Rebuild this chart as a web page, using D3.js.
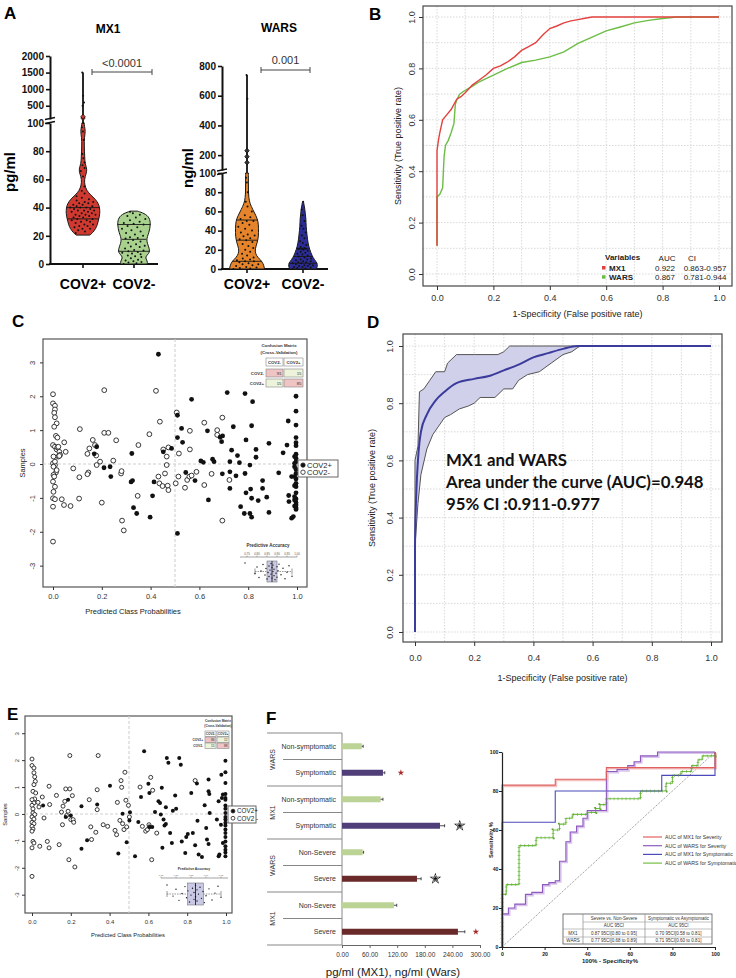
<!DOCTYPE html>
<html>
<head>
<meta charset="utf-8">
<script src="https://cdn.jsdelivr.net/npm/d3@7/dist/d3.min.js"></script>
<style>
html,body{margin:0;padding:0;background:#fff;}
svg{display:block;}
</style>
</head>
<body>
<svg id="chart" width="736" height="978"></svg>
<script>
// ================= DATA =================
// ---- Panel A : violins ----
const violinGroups = ["COV2+", "COV2-"];
const mx1TicksLow = [0, 20, 40, 60, 80, 100];
const mx1TicksHigh = [500, 1000, 1500, 2000];
const warsTicksLow = [0, 20, 40, 60, 80, 100];
const warsTicksHigh = [200, 400, 600, 800];
// [value, relative density]
const mx1PosProfile = [[20.5,0.4],[22,0.55],[25,0.75],[28,0.85],[32,0.93],[36,1.0],[40,0.98],[43,0.9],[46,0.72],[49,0.45],[52,0.22],[56,0.1],[60,0.08],[64,0.18],[67,0.25],[71,0.12],[76,0.1],[84,0.07],[90,0.08],[94,0.15],[98,0.08],[100,0.07]];
const mx1NegProfile = [[0,0.78],[2,0.8],[5,0.62],[8,0.95],[12,0.88],[17,0.7],[22,0.88],[28,0.98],[33,0.92],[36,0.6],[37.5,0.2]];
const warsPosProfile = [[0,1.0],[4,0.96],[8,0.85],[12,0.62],[16,0.48],[21,0.46],[27,0.58],[34,0.66],[42,0.66],[50,0.64],[56,0.5],[62,0.33],[68,0.17],[74,0.1],[82,0.08],[92,0.08],[100,0.08]];
const warsNegProfile = [[0,0.9],[3,0.96],[6,0.95],[10,0.75],[14,0.6],[20,0.45],[27,0.33],[35,0.27],[45,0.2],[52,0.2],[58,0.15],[65,0.1],[70,0.03]];
const mx1PosQuart = [32, 40];
const mx1NegQuart = [9, 17.5, 28];
const warsPosQuart = [8, 30, 51];
const warsNegQuart = [6, 13, 21];
const mx1PosMax = 1500, warsPosMax = 740;
const mx1PosDots = [22,23,24,25,25,26,27,27,28,28,29,30,30,31,31,32,32,33,33,34,34,35,35,35,36,36,37,37,38,38,38,39,39,40,40,40,41,41,42,42,43,43,44,44,45,46,47,48,50,52,55,62,66,68,70,72,75,78,88,94,97,100,500,600,800,1500];
const mx1NegDots = [0,0.5,1,1.5,2,2.5,3,4,5,5.5,6,7,7.5,8,8.5,9,9.5,10,11,12,12.5,13,14,15,16,17,18,18.5,19,20,21,22,23,24,25,26,27,28,28.5,29,30,31,32,33,34,35,36,37];
const warsPosDots = [0,0.5,1,1.5,2,3,4,5,5,6,7,8,8,9,10,11,12,14,16,18,20,22,24,26,28,30,31,32,34,35,36,38,40,42,44,46,48,50,50,52,54,56,60,65,70,80,90,95,580,740];
const warsNegDots = [0,0.5,1,1.5,2,2,3,3,4,4,5,5,6,6,7,7,8,8,9,10,10,11,12,13,14,15,16,17,18,19,20,21,21,21,21,22,23,25,27,29,32,35,38,42,45,50,56,62,70];
const mx1Outliers = [130, 170];
const warsOutliers = [150, 190, 230];
const mx1PValue = "<0.0001";
const warsPValue = "0.001";

// ---- Panel B : ROC ----
const bMx1Fpr = [0,0,0.005,0.01,0.02,0.035,0.05,0.07,0.085,0.1,0.125,0.15,0.175,0.2,0.225,0.25,0.275,0.3,0.325,0.35,0.375,0.4,0.425,0.45,0.475,0.5,0.525,0.55,0.6,1];
const bMx1Tpr = [0.11,0.48,0.52,0.55,0.60,0.62,0.64,0.68,0.69,0.705,0.735,0.755,0.775,0.80,0.81,0.825,0.845,0.87,0.885,0.90,0.93,0.955,0.965,0.977,0.985,0.99,0.995,1,1,1];
const bWarsFpr = [0,0,0.01,0.02,0.025,0.03,0.04,0.05,0.06,0.065,0.07,0.08,0.1,0.125,0.15,0.2,0.25,0.3,0.35,0.4,0.45,0.5,0.55,0.6,0.65,0.7,0.75,0.8,0.85,1];
const bWarsTpr = [0.11,0.30,0.31,0.335,0.455,0.50,0.52,0.55,0.585,0.66,0.677,0.70,0.715,0.73,0.748,0.774,0.80,0.823,0.832,0.845,0.864,0.897,0.922,0.946,0.961,0.977,0.987,0.994,1,1];
const bVariables = ["MX1", "WARS"];
const bAuc = ["0.922", "0.867"];
const bCi = ["0.863-0.957", "0.781-0.944"];
const rocTicks = [0, 0.2, 0.4, 0.6, 0.8, 1.0];

// ---- Panel C : scatter ----
const cOpen = [[0,2.06],[0,1.79],[0.008,1.72],[0.008,1.61],[0.005,1.51],[0.008,1.38],[0.015,1.2],[0.005,1.1],[0.012,0.83],[0.018,0.78],[0,0.56],[0.008,0.51],[0.015,0.43],[0.026,0.36],[0.029,0.27],[0.022,0.22],[0,0.02],[0.008,-0.03],[0.002,-0.08],[0.012,-0.25],[0.002,-0.32],[0,-0.52],[0.008,-0.67],[0,-1.01],[0.008,-1.04],[0,-1.26],[0,-2.29],[0.018,0.49],[0.002,0.22],[0.008,0.07],[0.015,-0.18],[0.005,-0.37],[0.002,-0.82],[0.022,0.51],[0.026,0.24],
[0.036,-1.04],[0.045,-1.21],[0.072,-1.24],[0.046,0.64],[0.052,0.36],[0.083,-0.13],[0.108,-0.39],[0.11,1.03],[0.107,-1.02],[0.141,0.3],[0.145,-0.25],[0.149,0.46],[0.141,-0.3],[0.163,0.71],[0.172,0.56],[0.177,0.25],[0.179,-0.03],[0.193,0.07],[0.2,-1.14],[0.21,2.18],[0.21,0.92],[0.227,0.92],[0.247,0.1],[0.259,0.7],[0.279,-0.28],[0.281,-0.21],[0.283,-1.67],[0.29,-1.96],[0.347,-0.94],[0.35,0.56],[0.395,0.88],[0.422,2.16],[0.438,1.25],[0.432,-0.37],[0.436,-0.57],[0.449,-0.65],[0.452,0.43],[0.459,-0.28],[0.466,0.22],[0.466,-0.03],[0.47,-0.64],[0.473,-0.77],[0.473,0.49],[0.503,-0.57],[0.507,1.52],[0.516,0.31],[0.514,-0.37],[0.541,-0.7],[0.55,-0.47],[0.559,-0.37],[0.561,0.43],[0.561,0.98],[0.568,-0.34],[0.588,-0.23],[0.62,1.22],[0.62,-0.62],[0.65,-0.29],[0.673,1.0],[0.673,0.86],[0.694,1.37],[0.723,-0.47],[0.694,-1.67]];
const cFilled = [[0.432,3.24],[0.179,0.51],[0.169,0.3],[0.209,-0.11],[0.234,-0.08],[0.237,-0.37],[0.32,-0.53],[0.326,-0.49],[0.323,0.31],[0.33,-1.29],[0.343,-1.46],[0.398,-1.57],[0.408,-0.94],[0.414,-0.53],[0.452,0.36],[0.486,0.46],[0.51,1.44],[0.51,0.78],[0.527,1.05],[0.531,0.64],[0.51,-2.05],[0.544,-0.25],[0.568,1.91],[0.582,-0.49],[0.606,0.09],[0.616,0.05],[0.633,0.98],[0.637,-1.06],[0.654,0.14],[0.66,0.07],[0.685,0.79],[0.691,0.66],[0.695,0.83],[0.725,0.07],[0.725,-0.23],[0.725,-0.72],[0.732,0.41],[0.739,1.1],[0.714,2.11],[0.694,-0.29],[0.75,-0.35],[0.756,0.25],[0.764,0.04],[0.787,2.08],[0.791,0.71],[0.787,-0.28],[0.791,-0.85],[0.807,-0.03],[0.81,-0.74],[0.769,-1.26],[0.784,-1.46],[0.807,-1.46],[0.814,-1.57],[0.814,-1.01],[0.841,-1.08],[0.832,0.43],[0.832,0.2],[0.818,1.84],[0.814,1.13],[0.859,-0.49],[0.859,-0.72],[0.876,-0.98],[0.885,0.61],[0.885,-1.43],[0.925,-0.26],[0.943,0.33],[0.959,0.56],[0.964,1.27],[0.966,-0.93],[0.967,-1.11],[0.978,-0.37],[0.978,-1.6],[0.985,-1.55],
[0.996,2.0],[0.996,1.56],[0.996,1.15],[0.996,0.78],[0.996,0.63],[0.996,0.54],[0.996,0.29],[0.996,0.17],[0.996,0.07],[0.99,0.02],[0.996,-0.16],[0.996,-0.28],[0.99,-0.37],[0.996,-0.44],[0.996,-0.57],[0.996,-0.67],[0.996,-0.85],[0.996,-1.03],[0.996,-1.14],[0.996,-1.21],[0.996,-1.29],[0.996,-1.34],[0.99,-1.06],[0.99,0.22],[0.99,-0.08],[0.99,-0.64],[0.99,-0.96],[0.99,-1.24]];
const scatterXTicks = [0, 0.2, 0.4, 0.6, 0.8, 1.0];
const scatterYTicks = [-3, -2, -1, 0, 1, 2, 3];
const classLabels = ["COV2+", "COV2-"];
const cMatrixCols = ["COV2-", "COV2+"];
const cMatrixRows = ["COV2-", "COV2+"];
const cMatrix = [[91, 15], [15, 85]];
const cAccTicks = [0.75, 0.80, 0.85, 0.90, 0.95, 1.00];
const cAccuracy = [0.74,0.79,0.80,0.81,0.82,0.83,0.84,0.845,0.85,0.855,0.86,0.86,0.865,0.87,0.87,0.875,0.875,0.88,0.88,0.885,0.885,0.89,0.895,0.9,0.9,0.905,0.91,0.92,0.93,0.94,0.95,0.96,0.975];

// ---- Panel D : combined ROC with CI ----
const dMeanFpr = [0,0,0.005,0.01,0.02,0.04,0.07,0.1,0.14,0.2,0.25,0.3,0.35,0.4,0.45,0.5,0.55,1];
const dMeanTpr = [0,0.3,0.5,0.6,0.7,0.76,0.81,0.84,0.87,0.885,0.895,0.915,0.935,0.96,0.975,0.99,1,1];
const dUpperFpr = [0,0,0.01,0.015,0.03,0.05,0.07,0.1,0.11,0.14,0.2,0.28,0.3,0.32,1];
const dUpperTpr = [0.3,0.6,0.65,0.84,0.85,0.88,0.91,0.91,0.94,0.97,0.97,0.97,0.98,1,1];
const dLowerFpr = [0,0.01,0.02,0.04,0.06,0.08,0.1,0.12,0.15,0.18,0.2,0.22,0.27,0.3,0.33,0.35,0.38,0.42,0.46,0.5,0.53,0.55,0.56,1];
const dLowerTpr = [0.3,0.45,0.55,0.64,0.69,0.72,0.75,0.76,0.78,0.79,0.80,0.82,0.82,0.85,0.85,0.88,0.9,0.91,0.94,0.97,0.98,0.995,1,1];
const dText = ["MX1 and WARS", "Area under the curve (AUC)=0.948", "95% CI :0.911-0.977"];

// ---- Panel E : scatter ----
const eOpen = [[0,2.04],[0,1.8],[0.01,1.71],[0.01,1.53],[0.014,1.38],[0.017,1.21],[0.01,1.09],[0.005,0.84],[0.019,0.78],[0.014,0.56],[0,0.53],[0.01,0.41],[0,0.32],[0.005,0.19],[0.005,0.04],[0.014,-0.02],[0,-0.11],[0.01,-0.19],[0,-0.31],[0.01,-0.36],[0,-0.46],[0.005,-0.56],[0,-0.64],[0.005,-1.02],[0.01,-1.08],[0,-1.26],[0,-2.32],
[0.031,0.43],[0.036,0.26],[0.04,-1.2],[0.053,0.63],[0.062,-0.15],[0.088,1.03],[0.091,0.35],[0.079,-1.02],[0.088,-1.26],[0.126,0.69],[0.14,-1.14],[0.152,0.07],[0.157,-0.4],[0.16,0.29],[0.169,0.47],[0.174,0.93],[0.178,-0.06],[0.186,0.1],[0.195,0.93],[0.195,2.17],[0.2,-0.21],[0.19,-1.7],[0.208,0.68],[0.212,-0.21],[0.215,-0.31],[0.221,-1.97],[0.295,0.53],[0.303,-0.48],[0.307,-0.95],[0.329,-0.68],[0.336,0.9],[0.336,0.16],[0.341,2.17],[0.367,-0.4],[0.39,-0.46],[0.428,-0.61],[0.436,-0.77],[0.44,0.43],[0.453,-0.24],[0.459,1.24],[0.462,0.99],[0.467,-0.36],[0.474,-0.58],[0.479,1.55],[0.484,0.51],[0.488,-0.48],[0.497,0.32],[0.502,-0.11],[0.557,1.0],[0.569,-0.46],[0.586,-0.64],[0.595,-0.58],[0.603,-0.4],[0.605,-0.48],[0.612,1.36],[0.622,0.88],[0.617,-1.7],[0.643,-0.71],[0.841,1.24]];
const eFilled = [[0.057,0.31],[0.186,0.53],[0.174,-0.11],[0.2,-0.06],[0.255,0.29],[0.255,-1.29],[0.284,-0.98],[0.336,0.35],[0.402,1.05],[0.445,-1.47],[0.467,0.01],[0.488,-1.05],[0.502,-0.24],[0.505,0.06],[0.531,-1.57],[0.548,-0.3],[0.562,0.63],[0.578,2.33],[0.6,1.12],[0.605,0.78],[0.607,-0.48],[0.62,-0.48],[0.634,0.07],[0.652,0.47],[0.66,0.41],[0.664,-0.02],[0.669,0.97],[0.672,-1.26],[0.678,-0.21],[0.683,-0.43],[0.69,0.25],[0.69,-0.37],[0.695,2.08],[0.703,1.9],[0.712,-0.71],[0.721,-1.08],[0.726,0.12],[0.738,0.69],[0.743,0.19],[0.759,2.08],[0.767,1.83],[0.772,-1.02],[0.795,-0.86],[0.79,-1.45],[0.803,-0.74],[0.821,0.78],[0.829,-0.71],[0.841,-1.16],[0.85,1.13],[0.853,-0.25],[0.859,-1.51],[0.876,-1.6],[0.89,0.32],[0.898,-0.52],[0.902,-0.95],[0.91,-1.12],[0.91,1.28],[0.91,0.84],[0.914,0.74],[0.916,0.04],[0.953,-0.21],[0.962,-1.57],[0.966,-1.51],[0.962,0.47],[0.974,-0.4],[0.976,1.46],[0.979,0.59],[0.984,0.72],[0.984,-1.08],
[0.997,1.98],[0.997,1.55],[0.997,1.15],[0.997,0.74],[0.997,0.59],[0.997,0.53],[0.997,0.31],[0.997,0.19],[0.997,0.04],[0.997,-0.11],[0.997,-0.21],[0.997,-0.33],[0.997,-0.43],[0.997,-0.58],[0.997,-0.71],[0.997,-0.86],[0.997,-1.02],[0.997,-1.2],[0.997,-1.33],[0.997,-1.43],[0.997,-1.57]];
const eMatrixCols = ["COV2-", "COV2+"];
const eMatrixRows = ["COV2+", "COV2-"];
const eMatrix = [[86, 12], [15, 88]];
const eAccTicks = [0.75, 0.80, 0.85, 0.90, 0.95];
const eAccuracy = [0.77,0.79,0.8,0.81,0.82,0.83,0.835,0.84,0.845,0.85,0.855,0.86,0.86,0.865,0.865,0.87,0.87,0.875,0.88,0.885,0.89,0.895,0.9,0.91,0.92,0.93,0.94,0.95];

// ---- Panel F : bars ----
const fRowLabels = ["Non-symptomatic","Symptomatic","Non-symptomatic","Symptomatic","Non-Severe","Severe","Non-Severe","Severe"];
const fGroupLabels = ["WARS","MX1","WARS","MX1"];
const fBarKind = ["control","symptomatic","control","symptomatic","control","severe","control","severe"];
const fValues = [43, 89, 84, 213, 45, 163, 113, 252];
const fErrors = [3, 4, 5, 10, 2, 9, 6, 15];
const fSignif = [0, 1, 0, 2, 0, 2, 0, 1];
const fStarPos = [0, 128, 0, 256, 0, 203, 0, 291];
const fXTicks = [0, 60, 120, 180, 240, 300];
const fXTitle = "pg/ml (MX1), ng/ml (Wars)";

// ---- Panel F : ROC ----
const rocMx1Severity = [[0,0],[0,83],[25,83],[25,86],[49,86],[49,92],[100,92],[100,100]];
const rocWarsSeverity = [[0,0],[0,17],[3,17],[3,20],[6,20],[6,22],[11,22],[11,27],[14,27],[14,28],[19,28],[19,32],[22,32],[22,33],[25,33],[25,34],[27,34],[27,44],[30,44],[30,54],[32,54],[32,59],[35,59],[35,62],[38,62],[38,66],[40,66],[40,70],[49,70],[49,90],[54,90],[54,91],[59,91],[59,93],[62,93],[62,95],[65,95],[65,98],[73,98],[73,100],[100,100]];
const rocMx1Symptomatic = [[0,0],[0,64],[25,64],[25,80],[75,80],[75,88],[100,88],[100,100]];
const rocWarsSymptomatic = [[0,0],[0,27],[2,27],[2,32],[8,32],[8,52],[16,52],[16,56],[24,56],[24,60],[27,60],[27,63],[30,63],[30,66],[33,66],[33,68],[40,68],[40,69],[44,69],[44,71],[46,71],[46,73],[49,73],[49,76],[65,76],[65,80],[77,80],[77,84],[80,84],[80,88],[84,88],[84,90],[89,90],[89,93],[92,93],[92,96],[94,96],[94,98],[100,98],[100,100]];
const fRocLegend = ["AUC of MX1 for Severity","AUC of WARS for Severity","AUC of MX1 for Symptomatic","AUC of WARS for Symptomatic"];
const fRocTicks = [0, 20, 40, 60, 80, 100];
const fTableHeader = ["", "Severe vs. Non-Severe", "Symptomatic vs Asymptomatic"];
const fTableSub = ["", "AUC 95CI", "AUC 95CI"];
const fTableRows = [["MX1", "0.87 95CI[0.80 to 0.95]", "0.70 95CI[0.58 to 0.81]"], ["WARS", "0.77 95CI[0.68 to 0.89]", "0.71 95CI[0.60 to 0.81]"]];

// ================= DRAWING =================
const FONT = "'Liberation Sans', Arial, Helvetica, sans-serif";
const svg = d3.select("#chart");
svg.append("rect").attr("width", 736).attr("height", 978).attr("fill", "#fff");

function T(x, y, s, o = {}) {
  const t = svg.append("text").attr("x", x).attr("y", y).text(s)
    .attr("font-size", o.size || 10).attr("font-weight", o.weight || "normal")
    .attr("text-anchor", o.anchor || "start").attr("fill", o.fill || "#000")
    .attr("font-family", o.family || FONT);
  if (o.rotate) t.attr("transform", `rotate(${o.rotate},${x},${y})`);
  return t;
}
function L(x1, y1, x2, y2, stroke, w, dash) {
  const l = svg.append("line").attr("x1", x1).attr("y1", y1).attr("x2", x2).attr("y2", y2)
    .attr("stroke", stroke || "#000").attr("stroke-width", w || 1);
  if (dash) l.attr("stroke-dasharray", dash);
  return l;
}
function styleAxis(g, o) {
  g.selectAll(".tick line").attr("stroke", o.stroke || "#333").attr("stroke-width", o.tw || 1);
  g.selectAll(".tick text").attr("font-family", o.family || FONT).attr("font-size", o.size)
    .attr("font-weight", o.weight || "normal").attr("fill", o.fill || "#333");
}

// ---------- panel letters ----------
[["A",4,19],["B",369,20],["C",12,327],["D",367,328],["E",7,720],["F",266,724]].forEach(d =>
  T(d[1], d[2], d[0], {size: 17, weight: "bold"}));

// ---------- Panel A ----------
function hwAt(profile, v) {
  if (v <= profile[0][0]) return profile[0][1];
  for (let i = 1; i < profile.length; i++) {
    if (v <= profile[i][0]) {
      const a = profile[i - 1], b = profile[i];
      const t = (v - a[0]) / (b[0] - a[0]);
      return a[1] + t * (b[1] - a[1]);
    }
  }
  return profile[profile.length - 1][1];
}
function drawViolin(cx, yLow, yFull, profile, maxHW, fill, quart, dots, upperMax, yHigh, outliers, outFill) {
  if (upperMax) {
    L(cx, yHigh(100), cx, yHigh(upperMax), "#111", 1.8);
    L(cx, yLow(100), cx, yHigh(100), "#111", 1.8);
    outliers.forEach(v => {
      const y = yHigh(v);
      svg.append("path").attr("d", `M${cx},${y-2.5}L${cx+2.2},${y}L${cx},${y+2.5}L${cx-2.2},${y}Z`)
        .attr("fill", outFill).attr("stroke", "#111").attr("stroke-width", 0.8);
    });
  }
  const area = d3.area().curve(d3.curveBasis)
    .y(d => yLow(d[0])).x0(d => cx - maxHW * d[1]).x1(d => cx + maxHW * d[1]);
  svg.append("path").datum(profile).attr("d", area).attr("fill", fill)
    .attr("stroke", "#1a1a1a").attr("stroke-width", 1);
  quart.forEach(q => { const w = maxHW * hwAt(profile, q); L(cx - w, yLow(q), cx + w, yLow(q), "#1a1a1a", 0.9); });
  const top = profile[profile.length - 1][0];
  dots.forEach((v, i) => {
    const w = v <= top ? maxHW * hwAt(profile, v) * 0.78 : 1.2;
    const off = ((((i * 0.618034) % 1) * 2) - 1) * w;
    svg.append("circle").attr("cx", cx + off).attr("cy", yFull(v)).attr("r", 1).attr("fill", "#111");
  });
}
function violinAxes(ax, lowS, highS, ticksLow, ticksHigh, xEnd, breakY) {
  [[lowS, ticksLow], [highS, ticksHigh]].forEach(([s, tv]) => {
    const g = svg.append("g").attr("transform", `translate(${ax},0)`)
      .call(d3.axisLeft(s).tickValues(tv).tickSize(4).tickSizeOuter(0).tickFormat(d => String(d)));
    g.select(".domain").attr("stroke", "#111").attr("stroke-width", 2);
    styleAxis(g, {size: 10, weight: "bold", fill: "#111", stroke: "#111", tw: 1.6});
    g.selectAll(".tick text").attr("x", -6);
  });
  L(ax - 5, breakY[0] + 1, ax + 5, breakY[0] - 1, "#111", 1.5);
  L(ax - 5, breakY[1] + 1, ax + 5, breakY[1] - 1, "#111", 1.5);
  L(ax - 1, lowS(0), xEnd, lowS(0), "#111", 2);
}

// MX1
const mx1Low = d3.scaleLinear().domain([0, 100]).range([264, 123]);
const mx1High = d3.scaleLinear().domain([100, 2000]).range([119, 56]);
const mx1Y = v => v <= 100 ? mx1Low(v) : mx1High(v);
const aX1 = d3.scalePoint().domain(violinGroups).range([83, 134]);
violinAxes(50, mx1Low, mx1High, mx1TicksLow, mx1TicksHigh, 158, [118.5, 122.5]);
drawViolin(aX1("COV2+"), mx1Low, mx1Y, mx1PosProfile, 17, "#d0392f", mx1PosQuart, mx1PosDots, mx1PosMax, mx1High, mx1Outliers, "#d0392f");
drawViolin(aX1("COV2-"), mx1Low, mx1Y, mx1NegProfile, 17, "#a9d18e", mx1NegQuart, mx1NegDots);
violinGroups.forEach(g => { L(aX1(g), 264, aX1(g), 268, "#111", 1.6); T(aX1(g), 289, g, {size: 14, weight: "bold", anchor: "middle"}); });
T(108, 33, "MX1", {size: 12, weight: "bold", anchor: "middle"});
T(15, 172, "pg/ml", {size: 15, weight: "bold", anchor: "middle", rotate: -90});
L(92, 72, 152, 72, "#444", 1); L(92, 69, 92, 75, "#444", 1); L(152, 69, 152, 75, "#444", 1);
T(122, 67, mx1PValue, {size: 11, anchor: "middle", fill: "#333"});

// WARS
const warsLow = d3.scaleLinear().domain([0, 100]).range([269, 173]);
const warsHigh = d3.scaleLinear().domain([100, 800]).range([170, 66]);
const warsY = v => v <= 100 ? warsLow(v) : warsHigh(v);
const aX2 = d3.scalePoint().domain(violinGroups).range([247, 303]);
violinAxes(222, warsLow, warsHigh, warsTicksLow, warsTicksHigh, 328, [170, 173.5]);
drawViolin(aX2("COV2+"), warsLow, warsY, warsPosProfile, 17.5, "#e5842a", warsPosQuart, warsPosDots, warsPosMax, warsHigh, warsOutliers, "#333");
drawViolin(aX2("COV2-"), warsLow, warsY, warsNegProfile, 15, "#2c2c98", warsNegQuart, warsNegDots);
violinGroups.forEach(g => { L(aX2(g), 269, aX2(g), 273, "#111", 1.6); T(aX2(g), 289, g, {size: 14, weight: "bold", anchor: "middle"}); });
T(279, 32, "WARS", {size: 12, weight: "bold", anchor: "middle"});
T(193, 168, "ng/ml", {size: 15, weight: "bold", anchor: "middle", rotate: -90});
L(261, 70, 310, 70, "#444", 1); L(261, 67, 261, 73, "#444", 1); L(310, 67, 310, 73, "#444", 1);
T(285.5, 64, warsPValue, {size: 11, anchor: "middle", fill: "#333"});

// ---------- ROC frame helper (panels B, D) ----------
function rocFrame(o) {
  d3.range(0, 11).forEach(i => {
    const v = i / 10;
    L(o.xs(v), o.y0, o.xs(v), o.y1, "#cfcfcf", 0.8, "1.5,1.5");
    L(o.x0, o.ys(v), o.x1, o.ys(v), "#cfcfcf", 0.8, "1.5,1.5");
  });
  svg.append("rect").attr("x", o.x0).attr("y", o.y0).attr("width", o.x1 - o.x0).attr("height", o.y1 - o.y0)
    .attr("fill", "none").attr("stroke", "#555").attr("stroke-width", 1.3);
  const gx = svg.append("g").attr("transform", `translate(0,${o.y1})`)
    .call(d3.axisBottom(o.xs).tickValues(rocTicks).tickSize(4).tickSizeOuter(0).tickFormat(d3.format(".1f")));
  gx.select(".domain").remove();
  styleAxis(gx, {size: 9});
  gx.selectAll(".tick text").attr("dy", null).attr("y", o.xLabOff);
  const gy = svg.append("g").attr("transform", `translate(${o.x0},0)`)
    .call(d3.axisLeft(o.ys).tickValues(rocTicks).tickSize(4).tickSizeOuter(0).tickFormat(d3.format(".1f")));
  gy.select(".domain").remove();
  styleAxis(gy, {size: 9});
  gy.selectAll(".tick text").attr("x", null).attr("dy", null).attr("text-anchor", "middle")
    .attr("transform", `translate(${-o.yLabOff},0) rotate(-90)`);
  T((o.x0 + o.x1) / 2, o.xTitleY, "1-Specificity (False positive rate)", {size: 9, anchor: "middle", fill: "#222"});
  T(o.yTitleX, (o.y0 + o.y1) / 2, "Sensitivity (True positive rate)", {size: 9, anchor: "middle", fill: "#222", rotate: -90});
}

// ---------- Panel B ----------
const bX = d3.scaleLinear().domain([0, 1]).range([437, 719]);
const bY = d3.scaleLinear().domain([0, 1]).range([274, 17]);
rocFrame({x0: 423, x1: 732, y0: 6, y1: 286, xs: bX, ys: bY, xLabOff: 15, yLabOff: 8, xTitleY: 317, yTitleX: 401});
const bLine = d3.line().x(d => bX(d[0])).y(d => bY(d[1]));
const bColors = ["#e3413f", "#6cbd45"];
svg.append("path").datum(d3.zip(bWarsFpr, bWarsTpr)).attr("d", bLine).attr("fill", "none").attr("stroke", bColors[1]).attr("stroke-width", 1.4);
svg.append("path").datum(d3.zip(bMx1Fpr, bMx1Tpr)).attr("d", bLine).attr("fill", "none").attr("stroke", bColors[0]).attr("stroke-width", 1.4);
T(605, 260, "Variables", {size: 8, weight: "bold", fill: "#222"});
T(667, 261, "AUC", {size: 8, anchor: "middle", fill: "#222"});
T(692, 261, "CI", {size: 8, anchor: "middle", fill: "#222"});
bVariables.forEach((v, i) => {
  const y = 270.5 + i * 9.2;
  svg.append("rect").attr("x", 602).attr("y", y - 4.5).attr("width", 3.5).attr("height", 3.5).attr("fill", bColors[i]);
  T(609, y, v, {size: 8, weight: "bold", fill: "#222"});
  T(665, y, bAuc[i], {size: 8, anchor: "middle", fill: "#222"});
  T(705, y, bCi[i], {size: 8, anchor: "middle", fill: "#222"});
});

// ---------- Panel D ----------
const dX = d3.scaleLinear().domain([0, 1]).range([415, 711]);
const dY = d3.scaleLinear().domain([0, 1]).range([632, 346]);
rocFrame({x0: 403, x1: 722, y0: 334, y1: 642, xs: dX, ys: dY, xLabOff: 19, yLabOff: 10, xTitleY: 681, yTitleX: 375});
const dUpper = d3.zip(dUpperFpr, dUpperTpr), dLower = d3.zip(dLowerFpr, dLowerTpr);
const band = dUpper.concat(dLower.slice().reverse());
const dLine = d3.line().x(d => dX(d[0])).y(d => dY(d[1]));
svg.append("path").datum(band).attr("d", dLine(band) + "Z").attr("fill", "#d0d0eb").attr("stroke", "none");
svg.append("path").datum(dUpper).attr("d", dLine).attr("fill", "none").attr("stroke", "#555").attr("stroke-width", 1);
svg.append("path").datum(dLower).attr("d", dLine).attr("fill", "none").attr("stroke", "#555").attr("stroke-width", 1);
svg.append("path").datum(d3.zip(dMeanFpr, dMeanTpr)).attr("d", dLine.curve(d3.curveMonotoneX)).attr("fill", "none").attr("stroke", "#3b3b9b").attr("stroke-width", 2);
dText.forEach((s, i) => T(446, 466 + i * 22, s, {size: 16.8, weight: "bold", family: "Lato, 'Open Sans', sans-serif", fill: "#111"}));

// ---------- Scatter helper (panels C, E) ----------
function scatterPanel(o) {
  svg.append("rect").attr("x", o.x0).attr("y", o.y0).attr("width", o.x1 - o.x0).attr("height", o.y1 - o.y0)
    .attr("fill", "#fff").attr("stroke", "#555").attr("stroke-width", 1.2);
  L(o.xs(0.5), o.y0, o.xs(0.5), o.y1, "#cfcfcf", 1.1, "3,2");
  L(o.x0, o.ys(0), o.x1, o.ys(0), "#cfcfcf", 1.1, "3,2");
  const gx = svg.append("g").attr("transform", `translate(0,${o.y1})`)
    .call(d3.axisBottom(o.xs).tickValues(scatterXTicks).tickSize(3).tickSizeOuter(0).tickFormat(d3.format(".1f")));
  gx.select(".domain").remove();
  styleAxis(gx, {size: o.fs});
  gx.selectAll(".tick text").attr("dy", null).attr("y", o.xLabOff);
  const gy = svg.append("g").attr("transform", `translate(${o.x0},0)`)
    .call(d3.axisLeft(o.ys).tickValues(scatterYTicks).tickSize(3).tickSizeOuter(0).tickFormat(d => String(d)));
  gy.select(".domain").remove();
  styleAxis(gy, {size: o.fs});
  gy.selectAll(".tick text").attr("x", null).attr("dy", null).attr("text-anchor", "middle")
    .attr("transform", `translate(${-o.yLabOff},0) rotate(-90)`);
  T(o.titleX, o.titleY, "Predicted Class Probabilities", {size: o.tfs, anchor: "middle", fill: "#222"});
  T(o.sampX, (o.y0 + o.y1) / 2, "Samples", {size: o.tfs, anchor: "middle", fill: "#222", rotate: -90});
  o.open.forEach(d => svg.append("circle").attr("cx", o.xs(d[0])).attr("cy", o.ys(d[1])).attr("r", o.r)
    .attr("fill", "#fff").attr("stroke", "#222").attr("stroke-width", 0.9));
  o.filled.forEach(d => svg.append("circle").attr("cx", o.xs(d[0])).attr("cy", o.ys(d[1])).attr("r", o.r).attr("fill", "#111"));
  // legend
  const lg = o.legend;
  svg.append("rect").attr("x", lg.x).attr("y", lg.y).attr("width", lg.w).attr("height", lg.h)
    .attr("fill", "#fff").attr("stroke", "#666").attr("stroke-width", 1);
  classLabels.forEach((c, i) => {
    const cy = lg.y + lg.h * (0.3 + 0.42 * i);
    svg.append("circle").attr("cx", lg.x + 5).attr("cy", cy).attr("r", lg.r)
      .attr("fill", i === 0 ? "#111" : "#fff").attr("stroke", "#222").attr("stroke-width", 0.8);
    T(lg.x + 9, cy + lg.fs * 0.36, i === 0 ? c : lg.neg, {size: lg.fs, fill: "#222"});
  });
  // confusion matrix
  const m = o.matrix;
  T(m.cx, m.ty, "Confusion Matrix", {size: m.fs, weight: "bold", anchor: "middle", fill: "#333"});
  T(m.cx, m.ty + m.fs * 1.7, "(Cross-Validation)", {size: m.fs, weight: "bold", anchor: "middle", fill: "#333"});
  m.cols.forEach((c, j) => {
    svg.append("rect").attr("x", m.colX[j]).attr("y", m.hy).attr("width", m.colW[j]).attr("height", m.rh)
      .attr("fill", "#fff").attr("stroke", "#888").attr("stroke-width", 0.6);
    T(m.colX[j] + m.colW[j] / 2, m.hy + m.rh * 0.75, c, {size: m.fs, weight: "bold", anchor: "middle", fill: "#333"});
  });
  m.rows.forEach((r, i) => {
    const y = m.rowY[i];
    T(m.colX[0] - 2, y + m.rh * 0.75, r, {size: m.fs, weight: "bold", anchor: "end", fill: "#333"});
    m.values[i].forEach((v, j) => {
      svg.append("rect").attr("x", m.colX[j]).attr("y", y).attr("width", m.colW[j]).attr("height", m.rh)
        .attr("fill", i === j ? "#efc4c4" : "#eef4dc").attr("stroke", "#888").attr("stroke-width", 0.6);
      T(m.colX[j] + m.colW[j] - 1.5, y + m.rh * 0.75, String(v), {size: m.fs, anchor: "end", fill: "#333"});
    });
  });
  // predictive accuracy inset
  const a = o.acc;
  T(a.cx, a.ty, "Predictive Accuracy", {size: a.fs, weight: "bold", anchor: "middle", fill: "#333"});
  L(a.lx0, a.ly, a.lx1, a.ly, "#666", 0.6);
  a.ticks.forEach(t => { L(a.s(t), a.ly, a.s(t), a.ly - 1.5, "#666", 0.5);
    T(a.s(t), a.ly - 2.5, t.toFixed(2), {size: a.fs * 0.65, anchor: "middle", fill: "#555"}); });
  const vals = a.values.slice().sort(d3.ascending);
  const q1 = d3.quantile(vals, 0.25), q2 = d3.quantile(vals, 0.5), q3 = d3.quantile(vals, 0.75);
  const iqr = q3 - q1;
  const lo = d3.min(vals.filter(v => v >= q1 - 1.5 * iqr)), hi = d3.max(vals.filter(v => v <= q3 + 1.5 * iqr));
  const my = (a.by0 + a.by1) / 2;
  L(a.s(lo), my, a.s(q1), my, "#555", 0.6, "1.5,1"); L(a.s(q3), my, a.s(hi), my, "#555", 0.6, "1.5,1");
  L(a.s(lo), my - 3, a.s(lo), my + 3, "#555", 0.6); L(a.s(hi), my - 3, a.s(hi), my + 3, "#555", 0.6);
  svg.append("rect").attr("x", a.s(q1)).attr("y", a.by0).attr("width", a.s(q3) - a.s(q1)).attr("height", a.by1 - a.by0)
    .attr("fill", "#c9c9e6").attr("stroke", "#777").attr("stroke-width", 0.6);
  L(a.s(q2), a.by0, a.s(q2), a.by1, "#333", 1);
  vals.forEach((v, i) => {
    const yy = a.by0 + 2 + (((i * 0.618034) % 1)) * (a.by1 - a.by0 - 4);
    svg.append("circle").attr("cx", a.s(v)).attr("cy", yy).attr("r", 0.7).attr("fill", "#111");
  });
}

// ---------- Panel C ----------
const cX = d3.scaleLinear().domain([0, 1]).range([53, 297]);
const cY = d3.scaleLinear().domain([-3.63, 3.69]).range([587, 339]);
scatterPanel({x0: 43, x1: 307, y0: 339, y1: 587, xs: cX, ys: cY, fs: 7.5, tfs: 7.5, xLabOff: 12, yLabOff: 8,
  titleX: 133, titleY: 614, sampX: 25, open: cOpen, filled: cFilled, r: 2.4,
  legend: {x: 298, y: 460, w: 40, h: 17, r: 2.2, fs: 7.5, neg: "COV2-"},
  matrix: {cx: 279, ty: 347, fs: 4.3, cols: cMatrixCols, rows: cMatrixRows, values: cMatrix,
    colX: [266, 284], colW: [17, 19], hy: 358, rh: 8, rowY: [369, 379]},
  acc: {cx: 268, ty: 547, fs: 4.5, lx0: 240, lx1: 297, ly: 557, ticks: cAccTicks,
    s: d3.scaleLinear().domain([0.75, 1.0]).range([247, 297]), values: cAccuracy, by0: 561, by1: 582}
});

// ---------- Panel E ----------
const eX = d3.scaleLinear().domain([0, 1]).range([32, 226]);
const eY = d3.scaleLinear().domain([-3.68, 3.64]).range([913, 716]);
scatterPanel({x0: 25, x1: 232, y0: 716, y1: 913, xs: eX, ys: eY, fs: 6, tfs: 5.8, xLabOff: 11, yLabOff: 6,
  titleX: 128, titleY: 937, sampX: 7, open: eOpen, filled: eFilled, r: 2,
  legend: {x: 228, y: 806, w: 28, h: 17, r: 1.9, fs: 6.3, neg: "COV2 -"},
  matrix: {cx: 218, ty: 722, fs: 3.2, cols: eMatrixCols, rows: eMatrixRows, values: eMatrix,
    colX: [205, 217], colW: [11, 12], hy: 731, rh: 5.5, rowY: [737, 743]},
  acc: {cx: 194, ty: 870, fs: 3.4, lx0: 161, lx1: 228, ly: 878, ticks: eAccTicks,
    s: d3.scaleLinear().domain([0.75, 0.95]).range([161, 221]), values: eAccuracy, by0: 883, by1: 905}
});

// ---------- Panel F bars ----------
const fY = d3.scaleBand().domain(d3.range(fRowLabels.length)).range([733, 945]);
const fX = d3.scaleLinear().domain([0, 300]).range([342, 480]);
const fColor = {control: "#bcd396", symptomatic: "#4f3e78", severe: "#6a2a2a"};
L(342, 733, 342, 945, "#888", 1);
d3.range(0, 5).forEach(i => { const y = i < 4 ? fY(i * 2) : 945; L(267, y, 342, y, "#888", 1); });
d3.range(0, 4).forEach(i => L(283, fY(i * 2 + 1), 342, fY(i * 2 + 1), "#888", 1));
fGroupLabels.forEach((g, i) => T(275, fY(i * 2 + 1), g, {size: 7, anchor: "middle", fill: "#333", rotate: -90}));
fRowLabels.forEach((r, i) => T(336, fY(i) + fY.bandwidth() / 2 + 2.4, r, {size: 7, anchor: "end", fill: "#333"}));
fValues.forEach((v, i) => {
  const cy = fY(i) + fY.bandwidth() / 2;
  svg.append("rect").attr("x", fX(0)).attr("y", cy - 3).attr("width", fX(v) - fX(0)).attr("height", 6)
    .attr("fill", fColor[fBarKind[i]]);
  L(fX(v), cy, fX(v + fErrors[i]), cy, "#222", 0.8);
  L(fX(v + fErrors[i]), cy - 1.5, fX(v + fErrors[i]), cy + 1.5, "#222", 0.8);
  if (fSignif[i]) {
    const sx = fX(fStarPos[i]);
    if (fSignif[i] === 2) {
      svg.append("path").attr("d", d3.symbol(d3.symbolStar, 42)()).attr("transform", `translate(${sx},${cy})`)
        .attr("fill", "#111");
      svg.append("path").attr("d", d3.symbol(d3.symbolStar, 16)()).attr("transform", `translate(${sx},${cy})`)
        .attr("fill", "#111").attr("stroke", "#fff").attr("stroke-width", 0.5);
    } else {
      svg.append("path").attr("d", d3.symbol(d3.symbolStar, 13)()).attr("transform", `translate(${sx},${cy})`)
        .attr("fill", "#a52a2a");
    }
  }
});
const fgx = svg.append("g").attr("transform", "translate(0,945)")
  .call(d3.axisBottom(fX).tickValues(fXTicks).tickSize(3).tickSizeOuter(0).tickFormat(d3.format(".2f")));
fgx.select(".domain").attr("stroke", "#666");
styleAxis(fgx, {size: 6.5, stroke: "#666", fill: "#333"});
fgx.selectAll(".tick text").attr("dy", null).attr("y", 12);
T(393, 976, fXTitle, {size: 11.5, anchor: "middle", fill: "#222"});

// ---------- Panel F ROC ----------
const rX = d3.scaleLinear().domain([0, 100]).range([502, 715]);
const rY = d3.scaleLinear().domain([0, 100]).range([947, 752]);
L(rX(0), rY(0), rX(100), rY(100), "#333", 0.6, "1,1.2");
const rLine = d3.line().x(d => rX(d[0])).y(d => rY(d[1]));
const rocColors = ["#e06060", "#8e5bbd", "#4a4abb", "#72c043"];
const rocSets = [rocWarsSymptomatic, rocMx1Symptomatic, rocWarsSeverity, rocMx1Severity];
const rocSetColorIdx = [3, 2, 1, 0];
svg.append("path").datum(rocWarsSeverity).attr("d", rLine).attr("fill", "none").attr("stroke", "#d8c4ec").attr("stroke-width", 2.2).attr("transform", "translate(1,1)");
svg.append("path").datum(rocMx1Severity).attr("d", rLine).attr("fill", "none").attr("stroke", "#f4c0c0").attr("stroke-width", 2).attr("transform", "translate(1,1)");
rocSets.forEach((set, k) => {
  svg.append("path").datum(set).attr("d", rLine).attr("fill", "none").attr("stroke", rocColors[rocSetColorIdx[k]]).attr("stroke-width", 1.1);
});
svg.append("path").datum(rocWarsSymptomatic).attr("d", rLine).attr("fill", "none").attr("stroke", "#5aa030")
  .attr("stroke-width", 3).attr("stroke-dasharray", "0.5,3.5");
const rgy = svg.append("g").attr("transform", `translate(${rX(0)},0)`)
  .call(d3.axisLeft(rY).tickValues(fRocTicks).tickSize(3).tickSizeOuter(0).tickFormat(d => String(d)));
rgy.select(".domain").attr("stroke", "#222").attr("stroke-width", 1.2);
styleAxis(rgy, {size: 5.2, weight: "bold", stroke: "#222", fill: "#222"});
rgy.selectAll(".tick text").attr("x", -3.5);
const rgx = svg.append("g").attr("transform", `translate(0,${rY(0)})`)
  .call(d3.axisBottom(rX).tickValues(fRocTicks).tickSize(3).tickSizeOuter(0).tickFormat(d => String(d)));
rgx.select(".domain").attr("stroke", "#222").attr("stroke-width", 1.2);
styleAxis(rgx, {size: 5.2, weight: "bold", stroke: "#222", fill: "#222"});
rgx.selectAll(".tick text").attr("dy", null).attr("y", 9);
T(493, 840, "Sensitivity %", {size: 5.8, weight: "bold", anchor: "middle", fill: "#222", rotate: -90});
T(610, 963, "100% - Specificity%", {size: 6, weight: "bold", anchor: "middle", fill: "#222"});
fRocLegend.forEach((s, i) => {
  const y = 837 + i * 8.7;
  L(643, y, 662, y, rocColors[i], 1.2);
  T(665, y + 1.8, s, {size: 5.2, fill: "#333"});
});
// table
const tCols = [563, 583, 645, 712];
const tRows = [914, 922, 929, 937, 944];
svg.append("rect").attr("x", tCols[0]).attr("y", tRows[0]).attr("width", tCols[3] - tCols[0]).attr("height", tRows[4] - tRows[0])
  .attr("fill", "#fff").attr("stroke", "#555").attr("stroke-width", 0.8);
tCols.slice(1, 3).forEach(x => L(x, tRows[0], x, tRows[4], "#777", 0.6));
tRows.slice(1, 4).forEach((y, i) => L(i === 0 ? tCols[1] : tCols[0], y, tCols[3], y, "#999", 0.6));
const tAllRows = [fTableHeader, fTableSub].concat(fTableRows);
tAllRows.forEach((row, r) => row.forEach((cell, c) => {
  if (!cell) return;
  T((tCols[c] + tCols[c + 1]) / 2, (tRows[r] + tRows[r + 1]) / 2 + 1.6, cell, {size: 4.5, anchor: "middle", fill: "#333"});
}));
</script>
</body>
</html>
